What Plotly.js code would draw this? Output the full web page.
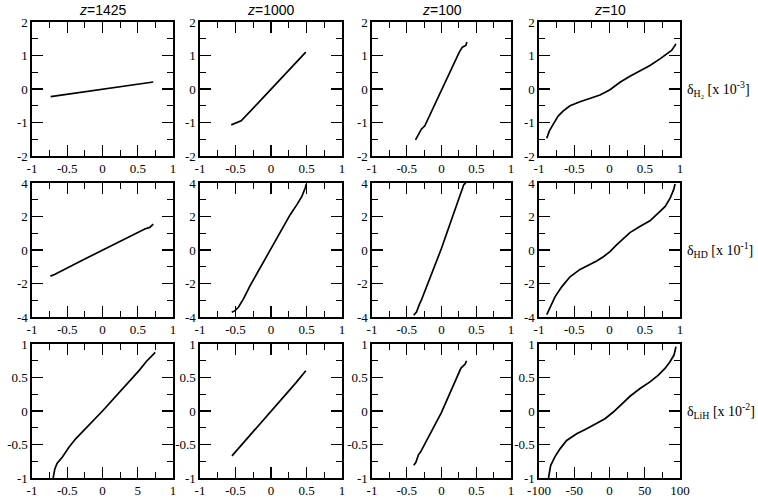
<!DOCTYPE html>
<html>
<head>
<meta charset="utf-8">
<script src="https://cdn.plot.ly/plotly-3.0.1.min.js"></script>
<style>html,body{margin:0;padding:0;background:#fff;}#chart{width:758px;height:502px;}</style>
</head>
<body>
<div id="chart"></div>
<script>
// ---- column / row labels ----
const colTitles = ['<i>z</i>=1425', '<i>z</i>=1000', '<i>z</i>=100', '<i>z</i>=10'];
const rowLabels = ['δ<sub>H₂</sub> [x 10<sup>-3</sup>]', 'δ<sub>HD</sub> [x 10<sup>-1</sup>]', 'δ<sub>LiH</sub> [x 10<sup>-2</sup>]'];

// ---- tick labels ----
const xTickVals = [-1, -0.5, 0, 0.5, 1];
const xTickText = ['-1', '-0.5', '0', '0.5', '1'];
const xTickTextLiH1425 = ['-1', '-0.5', '0', '5', '1'];
const xTickValsLiH10 = [-100, -50, 0, 50, 100];
const xTickTextLiH10 = ['-100', '-50', '0', '50', '100'];
const yTickValsH2 = [-2, -1, 0, 1, 2];
const yTickTextH2 = ['-2', '-1', '0', '1', '2'];
const yTickValsHD = [-4, -2, 0, 2, 4];
const yTickTextHD = ['-4', '-2', '0', '2', '4'];
const yTickValsLiH = [-1, -0.5, 0, 0.5, 1];
const yTickTextLiH = ['-1', '-0.5', '0', '0.5', '1'];

// ---- data: H2 ----
const h2_1425_x = [-0.735, -0.4, 0, 0.4, 0.72];
const h2_1425_y = [-0.23, -0.13, -0.01, 0.11, 0.21];
const h2_1000_x = [-0.56, -0.42, -0.2, 0, 0.2, 0.4, 0.49];
const h2_1000_y = [-1.07, -0.95, -0.46, 0.0, 0.45, 0.9, 1.1];
const h2_100_x = [-0.374, -0.336, -0.29, -0.24, 0, 0.256, 0.30, 0.35, 0.365];
const h2_100_y = [-1.52, -1.38, -1.2, -1.1, -0.03, 1.1, 1.25, 1.3, 1.4];
const h2_10_x = [-0.89, -0.853, -0.797, -0.726, -0.655, -0.56, -0.418, -0.277, -0.135, 0.007, 0.149, 0.29, 0.43, 0.574, 0.716, 0.81, 0.88, 0.93, 0.94];
const h2_10_y = [-1.47, -1.25, -1.05, -0.80, -0.65, -0.50, -0.38, -0.28, -0.18, -0.02, 0.20, 0.38, 0.55, 0.70, 0.90, 1.05, 1.15, 1.30, 1.35];

// ---- data: HD ----
const hd_1425_x = [-0.74, -0.68, -0.3, 0, 0.3, 0.55, 0.6, 0.67, 0.72];
const hd_1425_y = [-1.56, -1.46, -0.64, 0.0, 0.63, 1.15, 1.25, 1.35, 1.55];
const hd_1000_x = [-0.553, -0.506, -0.459, -0.388, -0.294, -0.012, 0.27, 0.365, 0.435, 0.482, 0.496];
const hd_1000_y = [-3.72, -3.62, -3.42, -2.92, -2.13, -0.02, 2.11, 2.71, 3.2, 3.7, 3.93];
const hd_100_x = [-0.40, -0.36, -0.314, -0.29, 0, 0.285, 0.32, 0.35];
const hd_100_y = [-3.9, -3.7, -3.2, -3.0, 0.1, 3.6, 3.9, 4.0];
const hd_10_x = [-0.89, -0.844, -0.773, -0.678, -0.56, -0.418, -0.277, -0.182, -0.087, 0.007, 0.10, 0.196, 0.29, 0.43, 0.574, 0.69, 0.79, 0.86, 0.91, 0.93];
const hd_10_y = [-3.86, -3.4, -2.8, -2.2, -1.6, -1.16, -0.86, -0.66, -0.40, -0.10, 0.30, 0.70, 1.04, 1.40, 1.74, 2.2, 2.6, 3.1, 3.6, 3.94];

// ---- data: LiH ----
const lih_1425_x = [-0.70, -0.676, -0.643, -0.571, -0.476, -0.381, 0, 0.333, 0.524, 0.619, 0.69, 0.738, 0.748];
const lih_1425_y = [-1.0, -0.865, -0.78, -0.69, -0.54, -0.415, 0, 0.385, 0.61, 0.735, 0.81, 0.85, 0.875];
const lih_1000_x = [-0.55, -0.45, -0.32, -0.15, 0, 0.2, 0.35, 0.49];
const lih_1000_y = [-0.67, -0.55, -0.40, -0.19, 0, 0.24, 0.42, 0.60];
const lih_100_x = [-0.40, -0.37, -0.33, -0.30, 0, 0.25, 0.28, 0.31, 0.34, 0.36];
const lih_100_y = [-0.81, -0.77, -0.65, -0.61, -0.02, 0.55, 0.64, 0.67, 0.70, 0.75];
const lih_10_x = [-86.5, -83.5, -77.3, -70.2, -60.8, -46.6, -32.4, -18.2, -6.4, 5.4, 17.3, 29.1, 43.3, 57.4, 69.3, 78.7, 85.8, 91.5, 94.3];
const lih_10_y = [-1.0, -0.815, -0.68, -0.565, -0.44, -0.34, -0.265, -0.19, -0.115, -0.015, 0.11, 0.22, 0.335, 0.435, 0.535, 0.635, 0.735, 0.835, 0.96];

const series = [
  [h2_1425_x, h2_1425_y], [h2_1000_x, h2_1000_y], [h2_100_x, h2_100_y], [h2_10_x, h2_10_y],
  [hd_1425_x, hd_1425_y], [hd_1000_x, hd_1000_y], [hd_100_x, hd_100_y], [hd_10_x, hd_10_y],
  [lih_1425_x, lih_1425_y], [lih_1000_x, lih_1000_y], [lih_100_x, lih_100_y], [lih_10_x, lih_10_y]
];

const W = 758, H = 502;
const colPx = [[32, 173], [200, 342], [372, 511], [539, 680]];
const rowPx = [[22, 156], [183, 317], [344, 478]];
const yRowSpec = [
  {range: [-2, 2], vals: yTickValsH2, text: yTickTextH2, minor: 0.5},
  {range: [-4, 4], vals: yTickValsHD, text: yTickTextHD, minor: 1},
  {range: [-1, 1], vals: yTickValsLiH, text: yTickTextLiH, minor: 0.25}
];

const tickFont = {family: 'Liberation Serif, Times New Roman, serif', size: 13, color: '#000'};
const data = [];
const layout = {
  width: W, height: H,
  margin: {l: 0, r: 0, t: 0, b: 0},
  paper_bgcolor: '#fff', plot_bgcolor: '#fff',
  showlegend: false,
  annotations: []
};

for (let r = 0; r < 3; r++) {
  for (let c = 0; c < 4; c++) {
    const i = r * 4 + c + 1;
    const xn = i === 1 ? 'xaxis' : 'xaxis' + i;
    const yn = i === 1 ? 'yaxis' : 'yaxis' + i;
    const xr = i === 1 ? 'x' : 'x' + i;
    const yr = i === 1 ? 'y' : 'y' + i;
    data.push({
      x: series[i - 1][0], y: series[i - 1][1],
      xaxis: xr, yaxis: yr, type: 'scatter', mode: 'lines',
      line: {color: '#000', width: 1.7}, hoverinfo: 'skip'
    });
    let xvals = xTickVals, xtext = xTickText, xrange = [-1, 1], xminor = 0.25;
    if (r === 2 && c === 0) xtext = xTickTextLiH1425;
    if (r === 2 && c === 3) { xvals = xTickValsLiH10; xtext = xTickTextLiH10; xrange = [-100, 100]; xminor = 25; }
    const common = {
      showgrid: false, zeroline: false, showline: true, linecolor: '#000', linewidth: 1.6,
      mirror: 'allticks', ticks: 'inside', ticklen: 11, tickwidth: 1.4, tickcolor: '#000',
      tickfont: tickFont, tickmode: 'array', fixedrange: true
    };
    layout[xn] = Object.assign({}, common, {
      domain: [colPx[c][0] / W, colPx[c][1] / W], anchor: yr,
      range: xrange, tickvals: xvals, ticktext: xtext,
      minor: {dtick: xminor, tick0: 0, ticks: 'inside', ticklen: 6, tickwidth: 1.2, tickcolor: '#000', showgrid: false}
    });
    const ys = yRowSpec[r];
    layout[yn] = Object.assign({}, common, {
      domain: [1 - rowPx[r][1] / H, 1 - rowPx[r][0] / H], anchor: xr,
      range: ys.range, tickvals: ys.vals, ticktext: ys.text,
      minor: {dtick: ys.minor, tick0: 0, ticks: 'inside', ticklen: 6, tickwidth: 1.2, tickcolor: '#000', showgrid: false}
    });
  }
}

for (let c = 0; c < 4; c++) {
  layout.annotations.push({
    text: colTitles[c], xref: 'paper', yref: 'paper',
    x: (colPx[c][0] + colPx[c][1]) / 2 / W, y: 1 - 10 / H,
    xanchor: 'center', yanchor: 'middle', showarrow: false,
    font: {family: 'Liberation Sans, Arial, sans-serif', size: 14, color: '#000'}
  });
}
for (let r = 0; r < 3; r++) {
  layout.annotations.push({
    text: rowLabels[r], xref: 'paper', yref: 'paper',
    x: 685 / W, y: 1 - ((rowPx[r][0] + rowPx[r][1]) / 2) / H,
    xanchor: 'left', yanchor: 'middle', showarrow: false,
    font: {family: 'Liberation Serif, Times New Roman, serif', size: 14, color: '#000'}
  });
}

Plotly.newPlot('chart', data, layout, {displayModeBar: false, staticPlot: true});
</script>
</body>
</html>
